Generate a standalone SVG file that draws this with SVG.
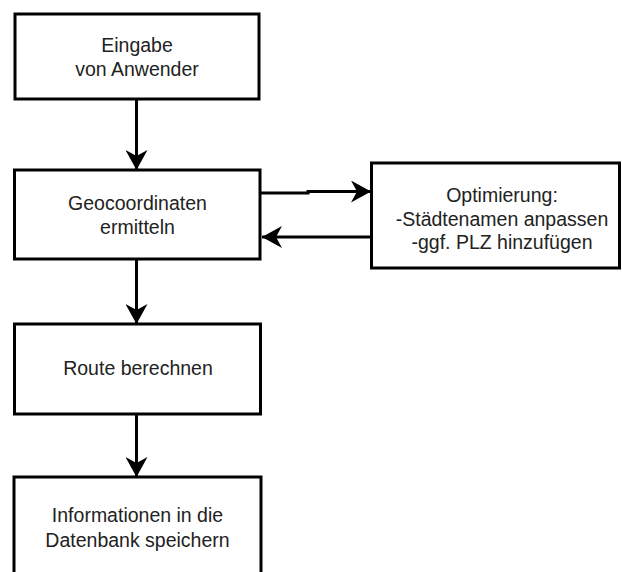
<svg xmlns="http://www.w3.org/2000/svg" width="622" height="572" viewBox="0 0 622 572">
  <style>
    .box { fill: #ffffff; stroke: #000000; stroke-width: 3; }
    .label { font-family: "Liberation Sans", Arial, sans-serif; font-size: 19.5px; fill: #222222; text-anchor: middle; }
    .conn { fill: none; stroke: #000000; stroke-width: 3; }
  </style>
  <defs>
    <marker id="dart" viewBox="0 0 20 22" refX="20" refY="11" markerWidth="20" markerHeight="22" markerUnits="userSpaceOnUse" orient="auto">
      <path d="M0,0 L20,11 L0,22 L6,11 Z" fill="#000000"/>
    </marker>
  </defs>
  <rect width="622" height="572" fill="#ffffff"/>

  <g id="connectors">
    <path class="conn" d="M136.5,99 V170" marker-end="url(#dart)"/>
    <path class="conn" d="M260,193 H308 V191.5 H371" marker-end="url(#dart)"/>
    <path class="conn" d="M371,237 H262" marker-end="url(#dart)"/>
    <path class="conn" d="M136.5,259 V324" marker-end="url(#dart)"/>
    <path class="conn" d="M136.5,414 V477" marker-end="url(#dart)"/>
  </g>

  <g id="eingabe">
    <rect class="box" x="15" y="14" width="244" height="85"/>
    <text class="label" x="137" y="52">Eingabe</text>
    <text class="label" x="137" y="76">von Anwender</text>
  </g>

  <g id="geocoordinaten">
    <rect class="box" x="14.5" y="170" width="245.5" height="89"/>
    <text class="label" x="137.5" y="210">Geocoordinaten</text>
    <text class="label" x="137.5" y="234">ermitteln</text>
  </g>

  <g id="optimierung">
    <rect class="box" x="371.5" y="163" width="248" height="105"/>
    <text class="label" x="502" y="202">Optimierung:</text>
    <text class="label" x="502" y="226">-Städtenamen anpassen</text>
    <text class="label" x="502" y="249">-ggf. PLZ hinzufügen</text>
  </g>

  <g id="route">
    <rect class="box" x="14.5" y="324" width="246" height="90"/>
    <text class="label" x="138" y="375">Route berechnen</text>
  </g>

  <g id="datenbank">
    <rect class="box" x="14" y="477" width="247" height="110"/>
    <text class="label" x="137.5" y="522">Informationen in die</text>
    <text class="label" x="137.5" y="547">Datenbank speichern</text>
  </g>
</svg>
